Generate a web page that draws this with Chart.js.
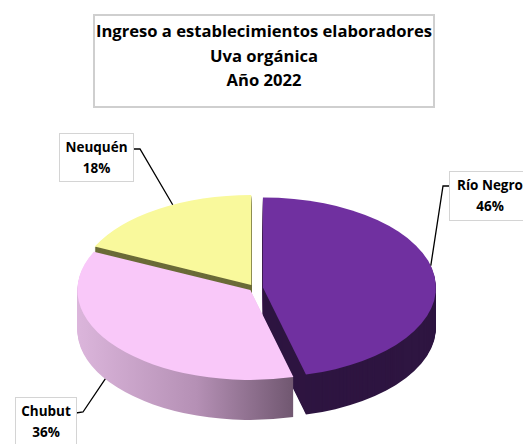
<!DOCTYPE html>
<html>
<head>
<meta charset="utf-8">
<script src="https://cdn.jsdelivr.net/npm/chart.js@4.4.0/dist/chart.umd.min.js"></script>
<style>
    body { margin: 0; width: 523px; height: 444px; overflow: hidden; position: relative; background: #fff; font-family: 'Open Sans', Lato, sans-serif; }
    #grafico { position: absolute; left: 0; top: 0; }
    .caja { position: absolute; box-sizing: border-box; background: #fff; border: 1px solid #d4d4d4; color: #000; font-weight: bold; text-align: center; }
    #titulo { left: 93px; top: 14px; width: 342px; height: 94px; border: 2px solid #cfcfcf; font-size: 16.6px; line-height: 24.5px; padding-top: 3px; white-space: nowrap; }
    .etiqueta { font-size: 13.5px; line-height: 21px; padding-top: 3px; white-space: nowrap; }
</style>
</head>
<body>
<canvas id="grafico" width="523" height="444"></canvas>
<div id="titulo" class="caja">Ingreso a establecimientos elaboradores<br>Uva orgánica<br>Año 2022</div>
<div id="etiquetas"></div>

<script>
// datos
const provincias = ['Río Negro', 'Chubut', 'Neuquén'];
const porcentajes = [46, 36, 18];

// estilo
const coloresTapa = ['#7030a0', '#f9c8f9', '#f9f99c'];
const coloresLado = ['#2e1541', null, '#6b6b38'];
const RADIO = 173;       // radio horizontal
const ACHATADO = 0.52;   // relacion alto/ancho de la elipse
const CENTRO_Y = 288;    // centro de la elipse en pantalla
const PROF = 40;         // espesor de la torta
const separacion = [8, 6, 7];

// cajas de etiquetas y lineas guia
const cajas = [
    { left: 449, top: 171, width: 82, height: 50, codo: [443, 186], lado: [449, 186], ang: 76, base: false },
    { left: 15, top: 397, width: 62, height: 60, codo: [83, 412], lado: [76, 413], ang: 237, base: true },
    { left: 59, top: 133, width: 75, height: 49, codo: [140, 149], lado: [133, 149], ang: 333, base: false }
];

const contenedor = document.getElementById('etiquetas');
cajas.forEach((c, i) => {
    contenedor.insertAdjacentHTML('beforeend',
        `<div class="caja etiqueta" style="left:${c.left}px;top:${c.top}px;width:${c.width}px;height:${c.height}px;">${provincias[i]}<br>${porcentajes[i]}%</div>`);
});

function desplazamiento(arc, i) {
    const medio = (arc.startAngle + arc.endAngle) / 2;
    return [Math.cos(medio) * separacion[i], Math.sin(medio) * separacion[i]];
}

function dibujarArco(ctx, arc, i, dy, color) {
    const [ex, ey] = desplazamiento(arc, i);
    const original = arc.options;
    arc.options = Object.assign({}, original, { backgroundColor: color, borderWidth: 0, offset: 0 });
    ctx.save();
    ctx.translate(0, CENTRO_Y + dy);
    ctx.scale(1, ACHATADO);
    ctx.translate(ex, -arc.y + ey);
    arc.draw(ctx);
    ctx.restore();
    arc.options = original;
}

const torta3d = {
    id: 'torta3d',
    beforeDatasetsDraw(chart) {
        const ctx = chart.ctx;
        const arcs = chart.getDatasetMeta(0).data;

        const grad = ctx.createLinearGradient(80, 0, 300, 0);
        grad.addColorStop(0, '#dcb6dc');
        grad.addColorStop(0.55, '#b590b5');
        grad.addColorStop(1, '#6f566f');
        const lados = coloresLado.map(c => c || grad);

        // paredes laterales, de abajo hacia arriba
        for (let d = PROF; d >= 1; d--) {
            arcs.forEach((arc, i) => dibujarArco(ctx, arc, i, d, lados[i]));
        }
        // tapas
        arcs.forEach((arc, i) => dibujarArco(ctx, arc, i, 0, coloresTapa[i]));
        return false;
    },
    afterDraw(chart) {
        const ctx = chart.ctx;
        const arcs = chart.getDatasetMeta(0).data;
        ctx.save();
        ctx.strokeStyle = '#000';
        ctx.lineWidth = 1.3;
        arcs.forEach((arc, i) => {
            const c = cajas[i];
            const [ex, ey] = desplazamiento(arc, i);
            const a = c.ang * Math.PI / 180 - Math.PI / 2;
            const px = arc.x + ex + RADIO * Math.cos(a);
            const py = CENTRO_Y + (ey + RADIO * Math.sin(a)) * ACHATADO + (c.base ? PROF : 0);
            ctx.beginPath();
            ctx.moveTo(c.lado[0], c.lado[1]);
            ctx.lineTo(c.codo[0], c.codo[1]);
            ctx.lineTo(px, py);
            ctx.stroke();
        });
        ctx.restore();
    }
};

new Chart(document.getElementById('grafico'), {
    type: 'pie',
    data: {
        labels: provincias,
        datasets: [{
            data: porcentajes,
            backgroundColor: coloresTapa,
            borderWidth: 0
        }]
    },
    options: {
        responsive: false,
        animation: false,
        radius: RADIO,
        layout: { padding: { right: 13 } },
        plugins: { legend: { display: false }, tooltip: { enabled: false } }
    },
    plugins: [torta3d]
});
</script>
</body>
</html>
